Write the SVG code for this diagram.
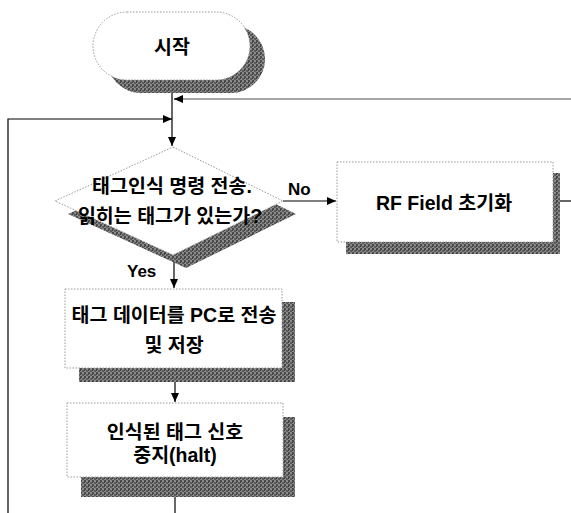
<svg xmlns="http://www.w3.org/2000/svg" width="571" height="513" viewBox="0 0 571 513">
<style>
.sh{fill:url(#hatch)}
.box{fill:#fff;stroke:#999;stroke-width:1;stroke-dasharray:1.5 1.5}
.t{font-family:"Liberation Sans","Noto Sans CJK KR",sans-serif;font-weight:bold;font-size:19.5px;fill:#000;text-anchor:middle}
.lbl{font-family:"Liberation Sans","Noto Sans CJK KR",sans-serif;font-weight:bold;font-size:17px;fill:#000}
.ln{fill:none;stroke:#000;stroke-width:1.2}
.lg{fill:none;stroke:#888;stroke-width:1.5}
</style>
<defs>
<pattern id="hatch" width="4" height="4" patternUnits="userSpaceOnUse">
<rect width="4" height="4" fill="#8a8a8a"/>
<rect x="0" y="0" width="2" height="2" fill="#4a4a4a"/>
<rect x="2" y="2" width="2" height="2" fill="#5a5a5a"/>
<rect x="0" y="2" width="1" height="1" fill="#3a3a3a"/>
</pattern>
<marker id="ah" markerWidth="10" markerHeight="10" refX="9" refY="5" orient="auto" markerUnits="userSpaceOnUse">
<path d="M0,1 L9,5 L0,9 Z" fill="#000"/>
</marker>
</defs>

<g id="connectors">
<line class="lg" x1="571" y1="99" x2="180" y2="99"/>
<line class="ln" x1="182" y1="99" x2="174" y2="99" marker-end="url(#ah)"/>
<line class="ln" x1="172" y1="90" x2="172" y2="146" marker-end="url(#ah)"/>
<polyline class="ln" points="8,513 8,119 172,119" marker-end="url(#ah)"/>
<line class="ln" x1="283" y1="201" x2="336" y2="201" marker-end="url(#ah)"/>
<line class="ln" x1="553" y1="201" x2="571" y2="201"/>
<line class="ln" x1="174" y1="258" x2="174" y2="288" marker-end="url(#ah)"/>
<line class="ln" x1="175" y1="382" x2="175" y2="402" marker-end="url(#ah)"/>
<line class="ln" x1="175" y1="497" x2="175" y2="513"/>
<text class="lbl" x="288" y="195">No</text>
<text class="lbl" x="127" y="277">Yes</text>
</g>

<g id="start">
<rect class="sh" x="107" y="25" width="158" height="68" rx="34"/>
<rect class="box" x="93" y="12" width="157" height="68" rx="34"/>
<text class="t" x="172" y="54">시작</text>
</g>

<g id="decision">
<polygon class="sh" points="186,160 296,214 186,268 68,214"/>
<polygon class="box" points="173,147 283,201 173,255 55,201"/>
<text class="t" x="172" y="193">태그인식 명령 전송.</text>
<text class="t" x="170" y="223">읽히는 태그가 있는가?</text>
</g>

<g id="rf">
<rect class="sh" x="346" y="173" width="214" height="81"/>
<rect class="box" x="337" y="162" width="216" height="80"/>
<text class="t" x="444" y="210">RF Field 초기화</text>
</g>

<g id="send">
<rect class="sh" x="79" y="302" width="216" height="80"/>
<rect class="box" x="65" y="289" width="217" height="79"/>
<text class="t" x="174" y="322">태그 데이터를 PC로 전송</text>
<text class="t" x="174" y="352">및 저장</text>
</g>

<g id="halt">
<rect class="sh" x="81" y="417" width="214" height="80"/>
<rect class="box" x="67" y="403" width="216" height="74"/>
<text class="t" x="175" y="439">인식된 태그 신호</text>
<text class="t" x="175" y="462">중지(halt)</text>
</g>
</svg>
